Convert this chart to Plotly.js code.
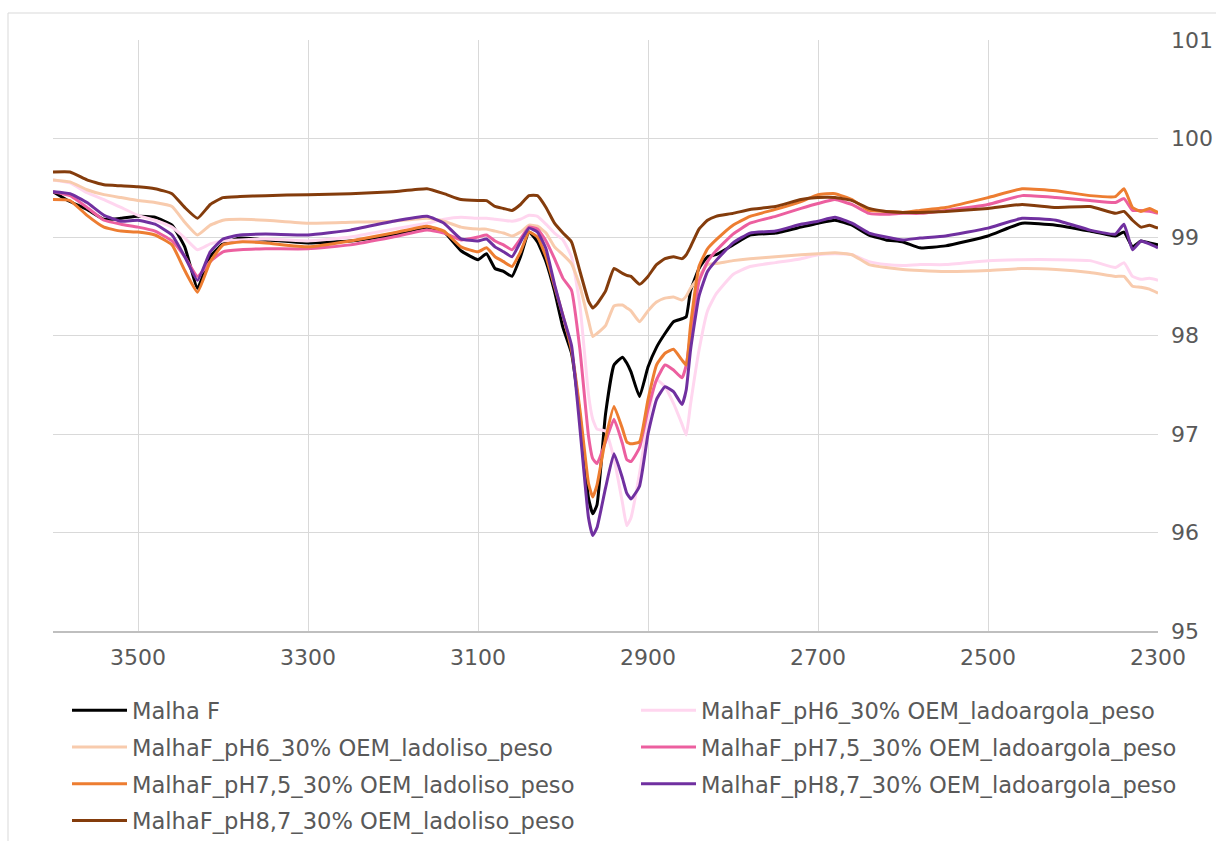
<!DOCTYPE html>
<html>
<head>
<meta charset="utf-8">
<script src="https://cdn.plot.ly/plotly-3.0.1.min.js"></script>
<style>
  html, body { margin: 0; padding: 0; background: #ffffff; }
  #chart { width: 1216px; height: 841px; }
</style>
</head>
<body>
<div id="chart"></div>
<script>
// Wavenumbers (cm-1), shared by all series
const wavenumbers = [3600,3580,3560,3540,3520,3500,3480,3460,3445,3430,3415,3400,3380,3350,3300,3250,3200,3160,3140,3120,3100,3090,3080,3070,3060,3050,3040,3030,3020,3010,3000,2990,2980,2970,2965,2960,2950,2940,2930,2925,2920,2910,2900,2890,2880,2870,2860,2855,2850,2840,2830,2820,2800,2780,2750,2720,2700,2680,2660,2640,2620,2600,2580,2550,2500,2460,2420,2380,2350,2340,2330,2320,2310,2300];

const seriesNames = [
  "Malha F",
  "MalhaF_pH6_30% OEM_ladoargola_peso",
  "MalhaF_pH6_30% OEM_ladoliso_peso",
  "MalhaF_pH7,5_30% OEM_ladoargola_peso",
  "MalhaF_pH7,5_30% OEM_ladoliso_peso",
  "MalhaF_pH8,7_30% OEM_ladoargola_peso",
  "MalhaF_pH8,7_30% OEM_ladoliso_peso"
];

const malhaF = [99.46,99.36,99.28,99.18,99.19,99.21,99.20,99.12,98.90,98.48,98.80,98.93,98.99,98.97,98.94,98.96,99.02,99.10,99.05,98.86,98.77,98.83,98.68,98.65,98.60,98.80,99.05,98.95,98.75,98.45,98.08,97.82,97.18,96.35,96.19,96.28,97.20,97.70,97.78,97.72,97.63,97.38,97.68,97.88,98.02,98.14,98.17,98.19,98.45,98.68,98.80,98.82,98.92,99.02,99.04,99.10,99.14,99.17,99.12,99.02,98.97,98.95,98.89,98.91,99.01,99.14,99.12,99.06,99.01,99.05,98.90,98.96,98.94,98.92];

const pH6_argola = [99.58,99.55,99.45,99.38,99.30,99.22,99.17,99.10,98.99,98.87,98.93,98.96,98.97,98.98,98.96,99.00,99.08,99.14,99.18,99.20,99.19,99.19,99.18,99.17,99.16,99.18,99.22,99.21,99.13,99.04,98.97,98.80,98.30,97.40,97.15,97.05,97.03,96.75,96.30,96.07,96.15,96.60,97.15,97.55,97.48,97.31,97.10,96.99,97.30,97.85,98.25,98.42,98.62,98.70,98.74,98.78,98.82,98.83,98.82,98.75,98.72,98.71,98.72,98.72,98.76,98.77,98.77,98.76,98.69,98.74,98.60,98.57,98.58,98.56];

const pH6_liso = [99.58,99.56,99.48,99.43,99.40,99.37,99.35,99.31,99.15,99.02,99.12,99.17,99.18,99.17,99.14,99.15,99.16,99.19,99.16,99.10,99.08,99.08,99.06,99.04,99.01,99.05,99.12,99.11,99.04,98.90,98.82,98.73,98.50,98.15,97.99,98.02,98.10,98.30,98.31,98.28,98.25,98.14,98.25,98.34,98.38,98.39,98.36,98.40,98.48,98.60,98.72,98.73,98.76,98.78,98.80,98.82,98.83,98.84,98.82,98.72,98.69,98.67,98.66,98.65,98.66,98.68,98.67,98.64,98.60,98.60,98.50,98.49,98.47,98.43];

const pH75_argola = [99.46,99.42,99.30,99.17,99.13,99.10,99.06,98.96,98.80,98.60,98.75,98.85,98.87,98.88,98.88,98.92,99.00,99.07,99.04,98.97,99.00,99.02,98.96,98.92,98.87,98.98,99.10,99.08,98.96,98.78,98.58,98.46,97.85,96.98,96.75,96.70,96.92,97.15,96.90,96.74,96.72,96.86,97.25,97.55,97.70,97.65,97.57,97.70,98.00,98.55,98.75,98.86,99.03,99.14,99.21,99.29,99.34,99.38,99.33,99.24,99.23,99.24,99.24,99.27,99.33,99.42,99.40,99.37,99.35,99.39,99.27,99.27,99.26,99.24];

const pH75_liso = [99.38,99.37,99.22,99.10,99.06,99.05,99.02,98.92,98.66,98.44,98.75,98.92,98.95,98.94,98.90,98.96,99.04,99.11,99.06,98.90,98.85,98.89,98.80,98.75,98.70,98.85,99.05,99.00,98.80,98.50,98.20,97.85,97.24,96.50,96.36,96.48,96.95,97.28,97.05,96.92,96.90,96.92,97.35,97.70,97.82,97.86,97.75,97.70,98.10,98.70,98.88,98.97,99.12,99.21,99.28,99.36,99.43,99.44,99.38,99.27,99.26,99.25,99.27,99.30,99.40,99.49,99.47,99.42,99.41,99.49,99.30,99.26,99.29,99.25];

const pH87_argola = [99.46,99.44,99.35,99.22,99.16,99.17,99.13,99.02,98.80,98.56,98.85,98.98,99.02,99.03,99.02,99.07,99.16,99.21,99.14,98.98,98.96,98.98,98.90,98.85,98.80,98.95,99.09,99.05,98.88,98.52,98.20,97.90,97.05,96.15,95.97,96.05,96.45,96.80,96.55,96.40,96.34,96.47,97.00,97.35,97.48,97.43,97.30,97.45,97.85,98.40,98.65,98.76,98.94,99.04,99.06,99.13,99.16,99.20,99.14,99.04,99.00,98.97,98.99,99.01,99.09,99.19,99.17,99.07,99.03,99.13,98.87,98.96,98.93,98.89];

const pH87_liso = [99.66,99.66,99.58,99.53,99.52,99.51,99.49,99.44,99.30,99.19,99.33,99.40,99.41,99.42,99.43,99.44,99.46,99.49,99.44,99.38,99.37,99.37,99.31,99.29,99.27,99.33,99.42,99.42,99.30,99.14,99.04,98.95,98.65,98.35,98.28,98.32,98.45,98.68,98.63,98.61,98.60,98.52,98.60,98.72,98.78,98.80,98.78,98.82,98.90,99.08,99.17,99.21,99.24,99.28,99.31,99.38,99.40,99.40,99.37,99.29,99.26,99.25,99.25,99.26,99.29,99.33,99.30,99.31,99.24,99.26,99.17,99.10,99.12,99.09];

const seriesValues = [malhaF, pH6_argola, pH6_liso, pH75_argola, pH75_liso, pH87_argola, pH87_liso];
const seriesColors = ["#000000", "#FFD6EF", "#F8CBAD", "#EC5F9F", "#ED7D31", "#7030A0", "#843C0C"];
// legend column of each series (1 = left column, 2 = right column)
const legendColumn = [1, 2, 1, 2, 1, 2, 1];

const xTicks = [3500, 3300, 3100, 2900, 2700, 2500, 2300];
const yTicks = [95, 96, 97, 98, 99, 100, 101];

const traces = seriesValues.map((vals, i) => ({
  type: "scatter",
  mode: "lines",
  name: seriesNames[i],
  x: wavenumbers,
  y: vals,
  legend: legendColumn[i] === 1 ? "legend" : "legend2",
  legendgroup: "g" + i,
  line: { color: seriesColors[i], width: 3, shape: "spline", smoothing: 0.4 },
  hoverinfo: "x+y+name"
}));

const L = 53, R = 1158, T = 40, B = 631, W = 1216, H = 841;
const pw = R - L, ph = B - T;
const px = v => (v - L) / pw;
const py = v => (B - v) / ph;

const FONT = "DejaVu Sans, Liberation Sans, Arial, sans-serif";
const legendCommon = {
  orientation: "v",
  xanchor: "left",
  yanchor: "top",
  traceorder: "grouped",
  font: { family: FONT, size: 22.6, color: "#595959" },
  bgcolor: "rgba(0,0,0,0)",
  borderwidth: 0,
  itemwidth: 55,
  tracegroupgap: 4.4
};

const layout = {
  width: W, height: H,
  paper_bgcolor: "#ffffff",
  plot_bgcolor: "#ffffff",
  margin: { l: L, r: W - R, t: T, b: H - B, pad: 0, autoexpand: false },
  font: { family: FONT, size: 22, color: "#595959" },
  showlegend: true,
  xaxis: {
    range: [3600, 2300],
    tickmode: "array",
    tickvals: xTicks,
    ticktext: xTicks.map(String),
    showgrid: true,
    gridcolor: "#d9d9d9",
    gridwidth: 1,
    zeroline: false,
    showline: true,
    linecolor: "#bfbfbf",
    linewidth: 1.5,
    ticks: "",
    ticklabelstandoff: 6,
    tickfont: { family: FONT, size: 22, color: "#595959" }
  },
  yaxis: {
    range: [95, 101],
    side: "right",
    tickmode: "array",
    tickvals: yTicks,
    ticktext: yTicks.map(String),
    showgrid: true,
    gridcolor: "#d9d9d9",
    gridwidth: 1,
    zeroline: false,
    showline: false,
    ticks: "",
    ticklabelstandoff: 12,
    tickfont: { family: FONT, size: 22, color: "#595959" }
  },
  legend: Object.assign({}, legendCommon, { x: px(67), y: py(689) }),
  legend2: Object.assign({}, legendCommon, { x: px(636), y: py(689) }),
  shapes: [
    { type: "rect", xref: "paper", yref: "paper",
      x0: px(8), x1: px(1230), y0: py(860), y1: py(13),
      line: { color: "#d9d9d9", width: 1 }, fillcolor: "rgba(0,0,0,0)", layer: "below" }
  ]
};

Plotly.newPlot("chart", traces, layout, { displayModeBar: false, responsive: false });
</script>
</body>
</html>
